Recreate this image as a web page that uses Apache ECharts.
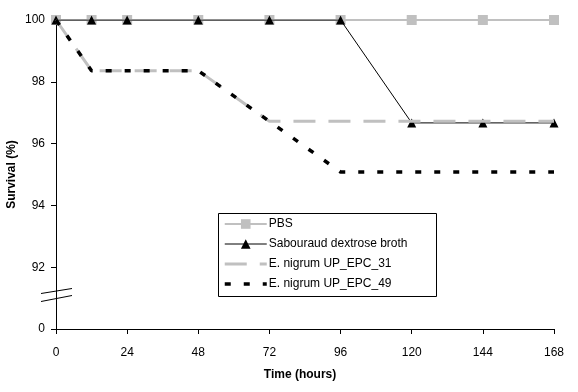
<!DOCTYPE html>
<html><head><meta charset="utf-8">
<script src="https://cdn.jsdelivr.net/npm/echarts@6/dist/echarts.min.js"></script>
<style>html,body{margin:0;padding:0;background:#fff}#c{width:578px;height:392px}</style>
</head><body><div id="c"></div>
<script>
const times = [0, 12, 24, 48, 72, 96, 120, 144, 168];
const pbs = [100, 100, 100, 100, 100, 100, 100, 100, 100];
const sabouraud = [100, 100, 100, 100, 100, 100, 96.67, 96.67, 96.67];
const epc31 = [100, 98.36, 98.36, 98.36, 96.72, 96.72, 96.72, 96.72, 96.72];
const epc49 = [100, 98.36, 98.36, 98.36, 96.72, 95.08, 95.08, 95.08, 95.08];
const xTicks = [0, 24, 48, 72, 96, 120, 144, 168];
const yTicks = ['0', '92', '94', '96', '98', '100'];
const names = ['PBS', 'Sabouraud dextrose broth', 'E. nigrum UP_EPC_31', 'E. nigrum UP_EPC_49'];

const pair = arr => times.map((t, i) => [t, arr[i]]);
const font = 'Liberation Sans, Arial, sans-serif';
const chart = echarts.init(document.getElementById('c'));
chart.setOption({
  animation: false,
  grid: {left: 56, right: 24, top: 20, bottom: 63, containLabel: false, outerBoundsMode: 'none'},
  xAxis: {
    type: 'value', min: 0, max: 168, interval: 24,
    name: 'Time (hours)', nameLocation: 'middle', nameGap: 40, nameMoveOverlap: false,
    nameTextStyle: {fontFamily: font, fontSize: 12, fontWeight: 'bold', color: '#000', padding: [0, 10, 0, 0]},
    axisLine: {show: true, lineStyle: {color: '#000', width: 1}},
    axisTick: {show: true, length: 5, lineStyle: {color: '#000'}},
    axisLabel: {fontFamily: font, fontSize: 12, color: '#000', margin: 18,
      formatter: v => xTicks.includes(v) ? String(v) : ''},
    splitLine: {show: false}
  },
  yAxis: {
    type: 'value', min: 90, max: 100, interval: 2,
    name: 'Survival (%)', nameLocation: 'middle', nameGap: 38, nameRotate: 90, nameMoveOverlap: false,
    nameTextStyle: {fontFamily: font, fontSize: 12, fontWeight: 'bold', color: '#000'},
    axisLine: {show: true, lineStyle: {color: '#000', width: 1}},
    axisTick: {show: true, length: 5, lineStyle: {color: '#000'}},
    axisLabel: {fontFamily: font, fontSize: 12, color: '#000', margin: 11,
      formatter: v => yTicks[Math.round((v - 90) / 2)]},
    splitLine: {show: false}
  },
  legend: {
    orient: 'vertical', left: 223, top: 218, itemWidth: 42, itemHeight: 12, itemGap: 8,
    padding: 0,
    textStyle: {fontFamily: font, fontSize: 12, color: '#000', padding: [0, 0, 0, -3]},
    data: [
      {name: names[0], lineStyle: {width: 2}},
      {name: names[1], lineStyle: {width: 1}},
      {name: names[2], lineStyle: {width: 3}, itemStyle: {opacity: 0}},
      {name: names[3], lineStyle: {width: 3.5}, itemStyle: {opacity: 0}}
    ]
  },
  graphic: [
    {type: 'rect', z: 1, shape: {x: 218.5, y: 213.5, width: 218, height: 83},
     style: {fill: '#fff', stroke: '#000', lineWidth: 1}},
    {type: 'line', z: 10, shape: {x1: 41, y1: 293.5, x2: 72, y2: 288.5}, style: {stroke: '#000', lineWidth: 1}},
    {type: 'line', z: 10, shape: {x1: 41, y1: 301.5, x2: 72, y2: 295.5}, style: {stroke: '#000', lineWidth: 1}}
  ],
  series: [
    {name: names[0], type: 'line', data: pair(pbs), symbol: 'rect', symbolSize: 10,
     itemStyle: {color: '#c0c0c0'}, lineStyle: {color: '#c0c0c0', width: 2}, z: 2},
    {name: names[1], type: 'line', data: pair(sabouraud), symbol: 'triangle', symbolSize: 9,
     itemStyle: {color: '#000'}, lineStyle: {color: '#000', width: 1}, z: 3},
    {name: names[2], type: 'line', data: pair(epc31), symbol: 'none',
     itemStyle: {color: '#c0c0c0'}, lineStyle: {color: '#c0c0c0', width: 3, type: [22, 13]}, z: 4},
    {name: names[3], type: 'line', data: pair(epc49), symbol: 'none',
     itemStyle: {color: '#000'}, lineStyle: {color: '#000', width: 3.5, type: [6, 13]}, z: 5}
  ]
});
</script></body></html>
